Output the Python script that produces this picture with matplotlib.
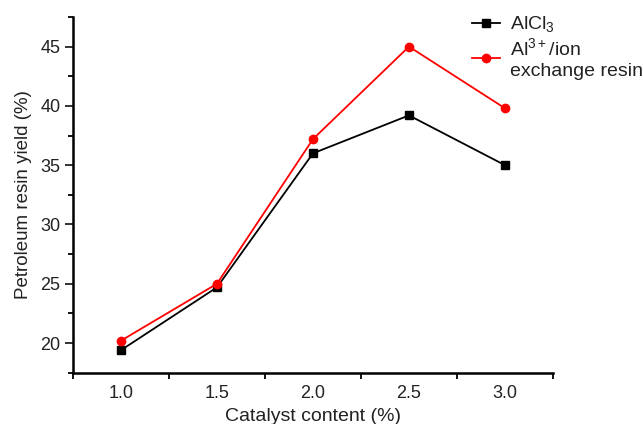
import numpy as np
import matplotlib.pyplot as plt
from matplotlib.ticker import MultipleLocator

plt.rcParams['font.family'] = ['Liberation Sans', 'DejaVu Sans']

catalyst = [1.0, 1.5, 2.0, 2.5, 3.0]
alcl3 = [19.4, 24.7, 36.0, 39.2, 35.0]
al_ion = [20.2, 25.0, 37.2, 45.0, 39.8]

fig = plt.figure(figsize=(6.43, 4.24), dpi=100)
ax = fig.add_axes([0.1135, 0.121, 0.7465, 0.839])

ax.plot(catalyst, alcl3, color='black', marker='s', markersize=5.5, lw=1.3,
        label=r'AlCl$_\mathregular{3}$')
ax.plot(catalyst, al_ion, color='#ff0000', marker='o', markersize=6, lw=1.3,
        label='Al$^\\mathregular{3+}$/ion\nexchange resin')

ax.set_xlim(0.75, 3.25)
ax.set_ylim(17.5, 47.5)
ax.xaxis.set_major_locator(MultipleLocator(0.5))
ax.xaxis.set_minor_locator(MultipleLocator(0.25))
ax.yaxis.set_major_locator(MultipleLocator(5))
ax.yaxis.set_minor_locator(MultipleLocator(2.5))
ax.xaxis.set_major_formatter(plt.FormatStrFormatter('%.1f'))

for s in ['top', 'right']:
    ax.spines[s].set_visible(False)
for s in ['left', 'bottom']:
    ax.spines[s].set_linewidth(1.8)

ax.tick_params(axis='y', which='major', direction='out', length=6, width=1.3,
               labelsize=13, colors='#222222', pad=3)
ax.tick_params(axis='y', which='minor', direction='out', length=3.5, width=1.3)
ax.tick_params(axis='x', which='major', direction='out', length=0,
               labelsize=13, colors='#222222', pad=9)
ax.tick_params(axis='x', which='minor', direction='out', length=4, width=1.3)

ax.set_xlabel('Catalyst content (%)', fontsize=14, color='#222222', labelpad=4)
ax.set_ylabel('Petroleum resin yield (%)', fontsize=13.5, color='#222222', labelpad=6)

leg = ax.legend(loc='upper left', bbox_to_anchor=(0.831, 1.005), frameon=False,
                fontsize=14, handlelength=1.45, handletextpad=0.5,
                labelspacing=0.1, borderaxespad=0, borderpad=0)
for t in leg.get_texts():
    t.set_color('#222222')

fig.savefig('out.png', dpi=100)
